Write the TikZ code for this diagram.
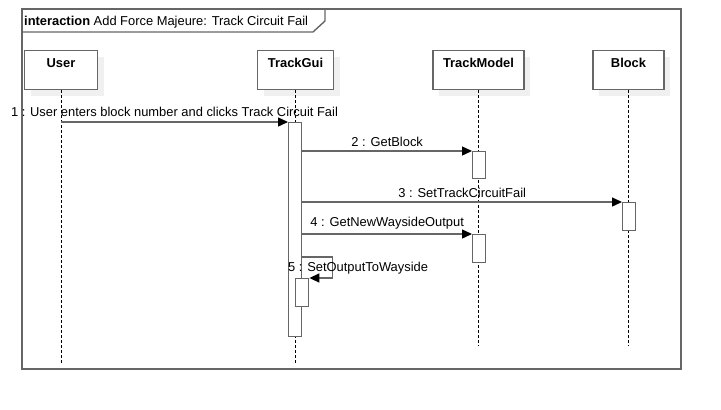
\documentclass[tikz,border=0pt]{standalone}
\usepackage{fontspec}
\setmainfont{Liberation Sans}
\usetikzlibrary{arrows.meta,calc,positioning,shadows}

\begin{document}
\begin{tikzpicture}[
    x=1pt,y=-1pt,
    every node/.style={font=\fontsize{12.9}{15}\selectfont},
    head/.style={draw=black!60,line width=1.4pt,fill=white,inner sep=0pt,text height=17pt,text depth=22pt,font=\fontsize{12.9}{15}\selectfont\bfseries,anchor=north,
        drop shadow={shadow xshift=6pt,shadow yshift=-6pt,fill=black!6,opacity=1}},
    act/.style={draw=black!60,line width=1.4pt,fill=white,minimum width=13pt,inner sep=0pt,anchor=north west},
    life/.style={dashed,dash pattern=on 3pt off 2pt,black,line width=0.8pt},
    msg/.style={-{Triangle[length=10pt,width=9pt,color=black]},draw=black!60,line width=1.4pt},
    frame/.style={draw=black!60,line width=1.4pt}
]
\useasboundingbox (0,0) rectangle (721,410);

% frame
\draw[frame] (22,9) rectangle (681,369);
\draw[frame] (22,32) -- (313,32) -- (325,21) -- (325,9);
\node[anchor=base west,inner sep=0pt] (title) at (24,25) {\textbf{interaction} Add Force Majeure: Track Circuit Fail};

% lifelines
\node[head,minimum width=73pt] (user) at (61,50) {User};
\node[head,minimum width=76pt] (gui) at (295.5,50) {TrackGui};
\node[head,minimum width=91pt] (model) at (478.5,50) {TrackModel};
\node[head,minimum width=71pt] (block) at (628.5,50) {Block};

\draw[life] (user.south) -- ++(0,273);
\draw[life] (gui.south) -- ++(0,274);
\draw[life] (model.south) -- ++(0,256);
\draw[life] (block.south) -- ++(0,256);

% activations
\node[act,minimum height=214pt] (guiact) at (288,122) {};
\node[act,minimum height=27pt] (modelact) at (472,151) {};
\node[act,minimum height=28pt] (blockact) at (622,202) {};
\node[act,minimum height=28pt] (modelact2) at (472,234) {};
\node[act,minimum height=28pt] (guiself) at (295,278) {};

% messages
\draw[msg] (user |- guiact.north) -- (guiact.north west)
    node[midway,above,inner sep=5pt] {1 : User enters block number and clicks Track Circuit Fail};
\draw[msg] (guiact.east |- modelact.north) -- (modelact.north west)
    node[midway,above,inner sep=4pt] {2 : GetBlock};
\draw[msg] (guiact.east |- blockact.north) -- (blockact.north west)
    node[midway,above,inner sep=4pt] {3 : SetTrackCircuitFail};
\draw[msg] (guiact.east |- modelact2.north) -- (modelact2.north west)
    node[midway,above,inner sep=4pt] {4 : GetNewWaysideOutput};
\draw[msg] (guiact.east |- 0,257) -- ++(30,0) |- (guiself.north east);
\node[anchor=base west,inner sep=0pt] (selfmsg) at (288,271) {5 : SetOutputToWayside};
\end{tikzpicture}
\end{document}
